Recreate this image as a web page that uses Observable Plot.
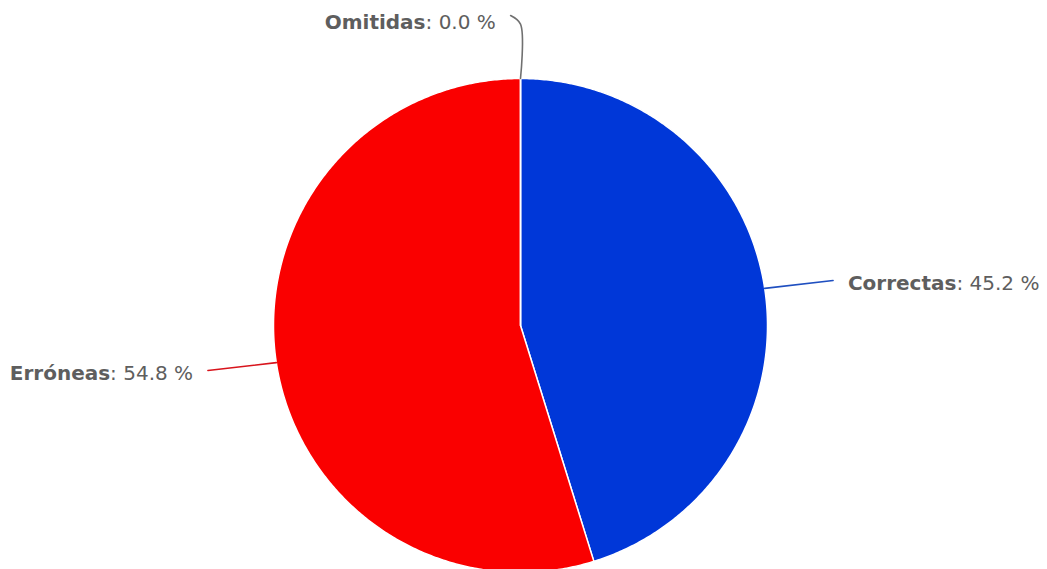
<!DOCTYPE html>
<html><head><meta charset="utf-8">
<script src="https://cdn.jsdelivr.net/npm/d3@7"></script>
<script src="https://cdn.jsdelivr.net/npm/@observablehq/plot@0.6"></script>
<style>body{margin:0;background:#fff;}</style>
</head><body><div id="chart"></div>
<script>
const categories = ["Correctas", "Erróneas", "Omitidas"];
const values = [45.2, 54.8, 0.0];
const colors = ["#0037d8", "#fa0000", "#666666"];
const connectorColors = ["#1f4fc0", "#d8141c", "#707070"];

const W = 1047, H = 569, cx = 520, cy = 325, R = 247;

const total = d3.sum(values);
let acc = 0;
const slices = categories.map((c, i) => {
  const a0 = acc / total * 2 * Math.PI;
  acc += values[i];
  const a1 = acc / total * 2 * Math.PI;
  return {category: c, value: values[i], a0, a1, mid: (a0 + a1) / 2, i};
});

// polygon points for slices (unit circle, angle clockwise from top)
const polyPts = [];
for (const s of slices) {
  polyPts.push({category: s.category, x: 0, y: 0});
  const n = Math.max(1, Math.ceil((s.a1 - s.a0) / (Math.PI / 360)));
  for (let k = 0; k <= n; k++) {
    const a = s.a0 + (s.a1 - s.a0) * k / n;
    polyPts.push({category: s.category, x: Math.sin(a), y: Math.cos(a)});
  }
  polyPts.push({category: s.category, x: 0, y: 0});
}

// connectors and labels
const connPts = [];
const labels = [];
for (const s of slices) {
  const side = Math.sin(s.mid) > 1e-9 ? 1 : -1;
  const vertical = Math.abs(Math.cos(s.mid)) > 0.9;
  const p0 = {x: Math.sin(s.mid), y: Math.cos(s.mid)};
  const p1 = {x: 1.22 * Math.sin(s.mid), y: 1.22 * Math.cos(s.mid)};
  const p2 = vertical
    ? {x: p1.x + side * 0.04, y: p1.y + 0.035 * Math.cos(s.mid)}
    : {x: 1.28 * Math.sin(s.mid), y: 1.28 * Math.cos(s.mid) - 0.01 * Math.sign(Math.cos(s.mid))};
  const pts = vertical ? [p0, p1, p2] : [p0, p2];
  for (const p of pts) connPts.push({category: s.category, x: p.x, y: p.y});
  labels.push({category: s.category, side, x: p2.x + side * 0.06,
               y: vertical ? (p1.y + p2.y) / 2 : p2.y,
               text: `${s.category}: ${s.value.toFixed(1)} %`});
}

const colorScale = {domain: categories, range: colors};

const plot = Plot.plot({
  width: W, height: H, margin: 0,
  x: {domain: [-cx / R, (W - cx) / R], range: [0, W], axis: null},
  y: {domain: [(cy - H) / R, cy / R], range: [H, 0], axis: null},
  color: colorScale,
  style: {background: "#fff"},
  marks: [
    Plot.line(polyPts, {x: "x", y: "y", z: "category", fill: "category", stroke: "white", strokeWidth: 1.5, strokeLinejoin: "round"}),
    ...categories.map((c, i) => Plot.line(connPts.filter(d => d.category === c), {x: "x", y: "y", stroke: connectorColors[i], strokeWidth: 1.6, curve: "catmull-rom"})),
    Plot.text(labels.filter(d => d.side > 0), {x: "x", y: "y", text: "text", textAnchor: "start", dy: 3, fill: "#5e5e5e", fontSize: 20, fontFamily: "DejaVu Sans"}),
    Plot.text(labels.filter(d => d.side < 0), {x: "x", y: "y", text: "text", textAnchor: "end", dy: 3, fill: "#5e5e5e", fontSize: 20, fontFamily: "DejaVu Sans"})
  ]
});

// bold category names
d3.select(plot).selectAll('g[aria-label="text"] text').each(function() {
  const t = this.textContent;
  const idx = t.indexOf(":");
  if (idx < 0) return;
  const sel = d3.select(this);
  sel.text(null);
  sel.append("tspan").attr("font-weight", "bold").text(t.slice(0, idx));
  sel.append("tspan").text(t.slice(idx));
});

document.getElementById("chart").appendChild(plot);
</script>
</body></html>
